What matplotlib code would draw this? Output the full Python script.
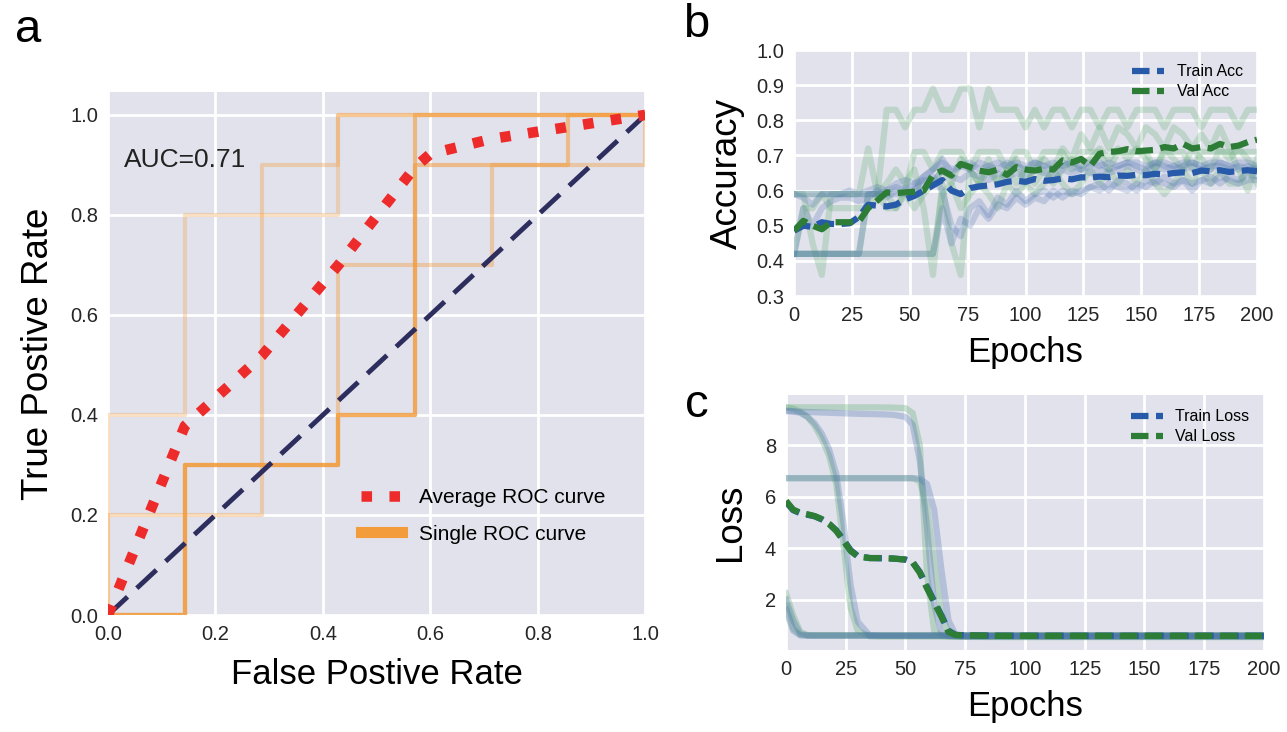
import matplotlib
matplotlib.use('Agg')
import matplotlib.pyplot as plt
from matplotlib.lines import Line2D

plt.rcParams['font.family'] = ['Liberation Sans', 'DejaVu Sans']

# ---------------- panel a: ROC ----------------
roc_fpr = [
    [0.0, 0.0, 0.143, 0.143, 0.429, 0.429, 1.0],
    [0.0, 0.0, 0.286, 0.286, 0.429, 0.429, 1.0],
    [0.0, 0.143, 0.143, 0.429, 0.429, 0.571, 0.571, 0.857, 0.857, 1.0],
    [0.0, 0.143, 0.143, 0.429, 0.429, 0.714, 0.714, 1.0, 1.0],
    [0.0, 0.143, 0.143, 0.429, 0.429, 0.571, 0.571, 1.0],
]
roc_tpr = [
    [0.0, 0.4, 0.4, 0.8, 0.8, 1.0, 1.0],
    [0.0, 0.2, 0.2, 0.9, 0.9, 1.0, 1.0],
    [0.0, 0.0, 0.3, 0.3, 0.4, 0.4, 0.9, 0.9, 1.0, 1.0],
    [0.0, 0.0, 0.3, 0.3, 0.7, 0.7, 0.9, 0.9, 1.0],
    [0.0, 0.0, 0.3, 0.3, 0.4, 0.4, 1.0, 1.0],
]
avg_fpr = [0.0, 0.143, 0.286, 0.429, 0.571, 0.60, 0.714, 0.857, 1.0]
avg_tpr = [0.0, 0.378, 0.518, 0.70, 0.895, 0.922, 0.952, 0.976, 1.0]
auc_text = 'AUC=0.71'

# ---------------- panel b: accuracy ----------------
acc_epochs = list(range(0, 201, 4))
val_acc = [
    [0.59, 0.59, 0.59, 0.59, 0.59, 0.59, 0.59, 0.59, 0.59, 0.59,
     0.83, 0.83, 0.78, 0.83, 0.83, 0.89, 0.83, 0.83, 0.89, 0.89,
     0.78, 0.89, 0.83, 0.83, 0.83, 0.78, 0.83, 0.78, 0.83, 0.83,
     0.78, 0.83, 0.83, 0.78, 0.83, 0.83, 0.78, 0.83, 0.83, 0.83,
     0.78, 0.83, 0.83, 0.83, 0.78, 0.83, 0.83, 0.83, 0.78, 0.83,
     0.83],
    [0.42, 0.42, 0.42, 0.42, 0.42, 0.42, 0.42, 0.42, 0.59, 0.59,
     0.59, 0.55, 0.60, 0.71, 0.71, 0.66, 0.71, 0.71, 0.71, 0.66,
     0.71, 0.71, 0.71, 0.66, 0.71, 0.71, 0.66, 0.71, 0.71, 0.71,
     0.66, 0.71, 0.71, 0.71, 0.66, 0.71, 0.71, 0.71, 0.71, 0.66,
     0.71, 0.71, 0.71, 0.66, 0.71, 0.71, 0.71, 0.71, 0.71, 0.71,
     0.71],
    [0.59, 0.59, 0.45, 0.36, 0.59, 0.59, 0.59, 0.59, 0.72, 0.59,
     0.62, 0.66, 0.62, 0.66, 0.55, 0.36, 0.62, 0.45, 0.36, 0.66,
     0.62, 0.69, 0.62, 0.66, 0.69, 0.62, 0.66, 0.69, 0.66, 0.72,
     0.69, 0.76, 0.72, 0.78, 0.72, 0.78, 0.76, 0.72, 0.78, 0.76,
     0.72, 0.78, 0.76, 0.72, 0.76, 0.72, 0.78, 0.72, 0.66, 0.60,
     0.69],
    [0.42, 0.42, 0.42, 0.42, 0.42, 0.42, 0.42, 0.42, 0.42, 0.42,
     0.42, 0.42, 0.42, 0.42, 0.42, 0.42, 0.59, 0.62, 0.55, 0.59,
     0.62, 0.59, 0.55, 0.62, 0.59, 0.62, 0.59, 0.62, 0.66, 0.62,
     0.59, 0.62, 0.66, 0.62, 0.66, 0.62, 0.66, 0.62, 0.66, 0.62,
     0.59, 0.62, 0.66, 0.62, 0.66, 0.62, 0.66, 0.62, 0.62, 0.66,
     0.62],
    [0.42, 0.55, 0.55, 0.59, 0.55, 0.55, 0.55, 0.55, 0.55, 0.59,
     0.55, 0.55, 0.59, 0.55, 0.59, 0.62, 0.66, 0.62, 0.69, 0.66,
     0.62, 0.66, 0.62, 0.66, 0.62, 0.66, 0.62, 0.66, 0.62, 0.66,
     0.69, 0.66, 0.69, 0.72, 0.69, 0.72, 0.69, 0.72, 0.69, 0.66,
     0.72, 0.69, 0.66, 0.72, 0.69, 0.66, 0.72, 0.69, 0.72, 0.69,
     0.66],
]
train_acc = [
    [0.59, 0.59, 0.59, 0.59, 0.59, 0.59, 0.59, 0.59, 0.59, 0.59,
     0.59, 0.59, 0.59, 0.60, 0.64, 0.66, 0.68, 0.66, 0.67, 0.68,
     0.66, 0.67, 0.68, 0.67, 0.68, 0.67, 0.68, 0.67, 0.68, 0.67,
     0.68, 0.67, 0.68, 0.67, 0.68, 0.67, 0.68, 0.68, 0.67, 0.68,
     0.68, 0.67, 0.68, 0.68, 0.67, 0.68, 0.68, 0.67, 0.68, 0.68,
     0.67],
    [0.42, 0.42, 0.42, 0.42, 0.42, 0.42, 0.42, 0.42, 0.59, 0.59,
     0.60, 0.61, 0.60, 0.62, 0.63, 0.62, 0.66, 0.64, 0.63, 0.65,
     0.64, 0.63, 0.65, 0.64, 0.65, 0.64, 0.66, 0.65, 0.64, 0.66,
     0.65, 0.66, 0.65, 0.66, 0.65, 0.66, 0.67, 0.66, 0.65, 0.67,
     0.66, 0.67, 0.66, 0.67, 0.66, 0.67, 0.67, 0.66, 0.67, 0.66,
     0.66],
    [0.42, 0.55, 0.50, 0.55, 0.57, 0.58, 0.58, 0.57, 0.58, 0.60,
     0.58, 0.60, 0.61, 0.60, 0.62, 0.64, 0.60, 0.50, 0.47, 0.55,
     0.57, 0.53, 0.58, 0.56, 0.60, 0.57, 0.59, 0.60, 0.58, 0.60,
     0.59, 0.60, 0.61, 0.62, 0.60, 0.63, 0.62, 0.60, 0.63, 0.62,
     0.64, 0.62, 0.63, 0.60, 0.63, 0.64, 0.62, 0.64, 0.63, 0.65,
     0.64],
    [0.42, 0.42, 0.42, 0.42, 0.42, 0.42, 0.42, 0.42, 0.42, 0.42,
     0.42, 0.42, 0.42, 0.42, 0.42, 0.42, 0.55, 0.45, 0.52, 0.50,
     0.55, 0.52, 0.56, 0.55, 0.58, 0.56, 0.58, 0.57, 0.60, 0.58,
     0.60, 0.59, 0.61, 0.60, 0.62, 0.61, 0.60, 0.62, 0.61, 0.63,
     0.62, 0.61, 0.63, 0.62, 0.63, 0.62, 0.64, 0.63, 0.62, 0.63,
     0.63],
    [0.59, 0.58, 0.56, 0.59, 0.59, 0.59, 0.60, 0.59, 0.60, 0.61,
     0.60, 0.62, 0.63, 0.62, 0.64, 0.66, 0.69, 0.65, 0.67, 0.66,
     0.68, 0.67, 0.66, 0.68, 0.67, 0.66, 0.68, 0.67, 0.66, 0.68,
     0.67, 0.66, 0.67, 0.68, 0.66, 0.67, 0.68, 0.67, 0.66, 0.68,
     0.67, 0.66, 0.67, 0.68, 0.67, 0.66, 0.68, 0.67, 0.66, 0.67,
     0.66],
]
train_acc_mean = [
    0.486, 0.500, 0.497, 0.510, 0.505, 0.505, 0.507, 0.525, 0.560, 0.557,
    0.555, 0.560, 0.575, 0.585, 0.600, 0.615, 0.630, 0.600, 0.590, 0.607,
    0.612, 0.615, 0.618, 0.625, 0.628, 0.625, 0.633, 0.628, 0.630, 0.635,
    0.632, 0.638, 0.637, 0.640, 0.638, 0.643, 0.642, 0.645, 0.644, 0.648,
    0.646, 0.650, 0.652, 0.650, 0.657, 0.655, 0.658, 0.653, 0.656, 0.658,
    0.655]
val_acc_mean = [
    0.486, 0.514, 0.500, 0.490, 0.510, 0.510, 0.510, 0.512, 0.550, 0.572,
    0.595, 0.593, 0.595, 0.597, 0.600, 0.645, 0.657, 0.643, 0.676, 0.667,
    0.657, 0.652, 0.660, 0.645, 0.667, 0.660, 0.657, 0.662, 0.660, 0.686,
    0.680, 0.690, 0.670, 0.705, 0.710, 0.712, 0.718, 0.712, 0.714, 0.716,
    0.724, 0.720, 0.733, 0.720, 0.724, 0.720, 0.733, 0.724, 0.728, 0.738,
    0.745]

# ---------------- panel c: loss ----------------
loss_epochs = [0, 3, 6, 9, 12, 15, 18, 21, 24, 27, 30, 35, 40, 45, 50,
               53, 56, 59, 62, 65, 68, 71, 75, 90, 120, 160, 200]
val_loss = [
    [9.47, 9.47, 9.47, 9.47, 9.47, 9.47, 9.47, 9.47, 9.47, 9.47, 9.47, 9.47, 9.47, 9.46,
     9.44, 9.25, 8.0, 3.0, 0.8, 0.6, 0.57, 0.56, 0.56, 0.55, 0.55, 0.55, 0.55],
    [9.47, 9.42, 9.3, 9.1, 8.75, 8.25, 7.6, 6.5, 4.2, 1.7, 0.8, 0.58, 0.57, 0.57,
     0.57, 0.57, 0.57, 0.57, 0.57, 0.57, 0.57, 0.57, 0.56, 0.56, 0.56, 0.56, 0.56],
    [6.72, 6.72, 6.72, 6.72, 6.72, 6.72, 6.72, 6.72, 6.72, 6.72, 6.72, 6.72, 6.72, 6.72,
     6.72, 6.72, 6.6, 5.6, 3.5, 1.5, 0.68, 0.62, 0.6, 0.6, 0.6, 0.6, 0.6],
    [2.25, 1.4, 0.75, 0.63, 0.62, 0.62, 0.62, 0.62, 0.62, 0.62, 0.62, 0.62, 0.62, 0.62,
     0.62, 0.62, 0.62, 0.62, 0.62, 0.62, 0.62, 0.62, 0.62, 0.62, 0.62, 0.62, 0.62],
    [1.75, 0.9, 0.63, 0.62, 0.62, 0.62, 0.62, 0.62, 0.62, 0.62, 0.62, 0.62, 0.62, 0.62,
     0.62, 0.62, 0.62, 0.62, 0.62, 0.62, 0.62, 0.62, 0.62, 0.62, 0.62, 0.62, 0.62],
]
train_loss = [
    [9.32, 9.31, 9.30, 9.29, 9.28, 9.27, 9.26, 9.25, 9.24, 9.23, 9.22, 9.21, 9.2, 9.18,
     9.1, 8.8, 7.4, 4.8, 1.8, 0.72, 0.6, 0.58, 0.57, 0.57, 0.56, 0.56, 0.56],
    [9.35, 9.32, 9.25, 9.1, 8.85, 8.45, 7.85, 6.9, 5.0, 2.6, 1.15, 0.62, 0.6, 0.6,
     0.6, 0.6, 0.6, 0.6, 0.6, 0.6, 0.6, 0.6, 0.59, 0.59, 0.59, 0.59, 0.59],
    [6.72, 6.72, 6.72, 6.72, 6.72, 6.72, 6.72, 6.72, 6.72, 6.72, 6.72, 6.72, 6.72, 6.72,
     6.72, 6.72, 6.7, 6.5, 5.5, 3.2, 1.2, 0.64, 0.61, 0.6, 0.6, 0.6, 0.6],
    [2.0, 1.2, 0.68, 0.62, 0.62, 0.62, 0.62, 0.62, 0.62, 0.62, 0.62, 0.62, 0.62, 0.62,
     0.62, 0.62, 0.62, 0.62, 0.62, 0.62, 0.62, 0.62, 0.62, 0.62, 0.62, 0.62, 0.62],
    [1.6, 0.8, 0.62, 0.6, 0.6, 0.6, 0.6, 0.6, 0.6, 0.6, 0.6, 0.6, 0.6, 0.6,
     0.6, 0.6, 0.6, 0.6, 0.6, 0.6, 0.6, 0.6, 0.6, 0.6, 0.6, 0.6, 0.6],
]
val_loss_mean = [5.84, 5.5, 5.38, 5.32, 5.25, 5.13, 4.95, 4.68, 4.3, 3.9, 3.68, 3.62, 3.62, 3.6,
                 3.56, 3.45, 3.05, 2.45, 1.9, 1.35, 0.75, 0.63, 0.62, 0.6, 0.6, 0.6, 0.6]
train_loss_mean = [5.8, 5.48, 5.36, 5.3, 5.24, 5.12, 4.95, 4.7, 4.33, 3.93, 3.7, 3.62, 3.61, 3.6,
                   3.56, 3.46, 3.08, 2.5, 1.95, 1.4, 0.8, 0.64, 0.62, 0.6, 0.6, 0.6, 0.6]

# ---------------- style ----------------
BG = '#E2E2EC'
ORANGE = '#F39C3C'
RED = '#EE2B2B'
NAVY = '#2D2D5E'
BLUE = '#285AAA'
GREEN = '#2D7D37'
BLUE_L = '#4C72B0'
GREEN_L = '#55A868'
TICK_FS = 14.5
LABEL_FS = 25
MEAN_DASH = (2.8, 1.2)


def style_axes(ax):
    ax.set_facecolor(BG)
    for s in ax.spines.values():
        s.set_visible(False)
    ax.grid(True, color='white', lw=2)
    ax.set_axisbelow(True)
    ax.tick_params(length=0, labelsize=TICK_FS, colors='#262626', pad=7)


fig = plt.figure(figsize=(12.87, 7.32), dpi=100)

# panel a
ax = fig.add_axes([0.0839, 0.1598, 0.4175, 0.714])
style_axes(ax)
roc_alpha = [0.3, 0.35, 0.55, 0.4, 0.6]
for f, t, a in zip(roc_fpr, roc_tpr, roc_alpha):
    ax.plot(f, t, color=ORANGE, lw=3, alpha=a)
ax.plot([0, 1], [0, 1], color=NAVY, lw=3.5, dashes=(5.5, 2.6))
ax.plot(avg_fpr, avg_tpr, color=RED, lw=7.6, ls=':')
ax.text(0.03, 0.91, auc_text, fontsize=19, va='center', color='#222222')
ax.set_xlim(0, 1)
ax.set_ylim(0, 1.045)
ax.set_xticks([0, 0.2, 0.4, 0.6, 0.8, 1.0])
ax.set_yticks([0, 0.2, 0.4, 0.6, 0.8, 1.0])
ax.set_xlabel('False Postive Rate', fontsize=LABEL_FS, labelpad=10)
ax.set_ylabel('True Postive Rate', fontsize=26.5, labelpad=10)
handles = [Line2D([], [], color=RED, lw=7.6, ls=':'),
           Line2D([], [], color=ORANGE, lw=8)]
ax.legend(handles, ['Average ROC curve', 'Single ROC curve'], loc='center left',
          bbox_to_anchor=(0.455, 0.19), frameon=False, fontsize=15,
          handlelength=2, labelspacing=0.85, borderaxespad=0)

# panel b
axb = fig.add_axes([0.617, 0.5956, 0.3597, 0.336])
style_axes(axb)
for v in val_acc:
    axb.plot(acc_epochs, v, color=GREEN_L, lw=4.5, alpha=0.25)
for t in train_acc:
    axb.plot(acc_epochs, t, color=BLUE_L, lw=4.5, alpha=0.25)
axb.plot(acc_epochs, train_acc_mean, color=BLUE, lw=4.5, dashes=MEAN_DASH, label='Train Acc')
axb.plot(acc_epochs, val_acc_mean, color=GREEN, lw=4.5, dashes=MEAN_DASH, label='Val Acc')
axb.set_xlim(0, 200)
axb.set_ylim(0.3, 1.0)
axb.set_xticks(range(0, 201, 25))
axb.set_yticks([0.3, 0.4, 0.5, 0.6, 0.7, 0.8, 0.9, 1.0])
axb.set_xlabel('Epochs', fontsize=LABEL_FS, labelpad=8)
axb.set_ylabel('Accuracy', fontsize=26.5, labelpad=8)
axb.legend(loc='upper right', frameon=False, fontsize=11.5, labelspacing=0.3)

# panel c
axc = fig.add_axes([0.6107, 0.112, 0.3714, 0.3484])
style_axes(axc)
for v in val_loss:
    axc.plot(loss_epochs, v, color=GREEN_L, lw=4.5, alpha=0.3)
for t in train_loss:
    axc.plot(loss_epochs, t, color=BLUE_L, lw=4.5, alpha=0.3)
axc.plot(loss_epochs, train_loss_mean, color=BLUE, lw=4.5, dashes=MEAN_DASH, label='Train Loss')
axc.plot(loss_epochs, val_loss_mean, color=GREEN, lw=4.5, dashes=MEAN_DASH, label='Val Loss')
axc.set_xlim(0, 200)
axc.set_ylim(0.05, 9.95)
axc.set_xticks(range(0, 201, 25))
axc.set_yticks([2, 4, 6, 8])
axc.set_xlabel('Epochs', fontsize=LABEL_FS, labelpad=8)
axc.set_ylabel('Loss', fontsize=26.5, labelpad=12)
axc.legend(loc='upper right', frameon=False, fontsize=11.5, labelspacing=0.3)

# panel letters
fig.text(0.022, 0.959, 'a', fontsize=34, ha='center', va='center')
fig.text(0.541, 0.966, 'b', fontsize=34, ha='center', va='center')
fig.text(0.5416, 0.447, 'c', fontsize=34, ha='center', va='center')

fig.savefig('out.png', dpi=100)
